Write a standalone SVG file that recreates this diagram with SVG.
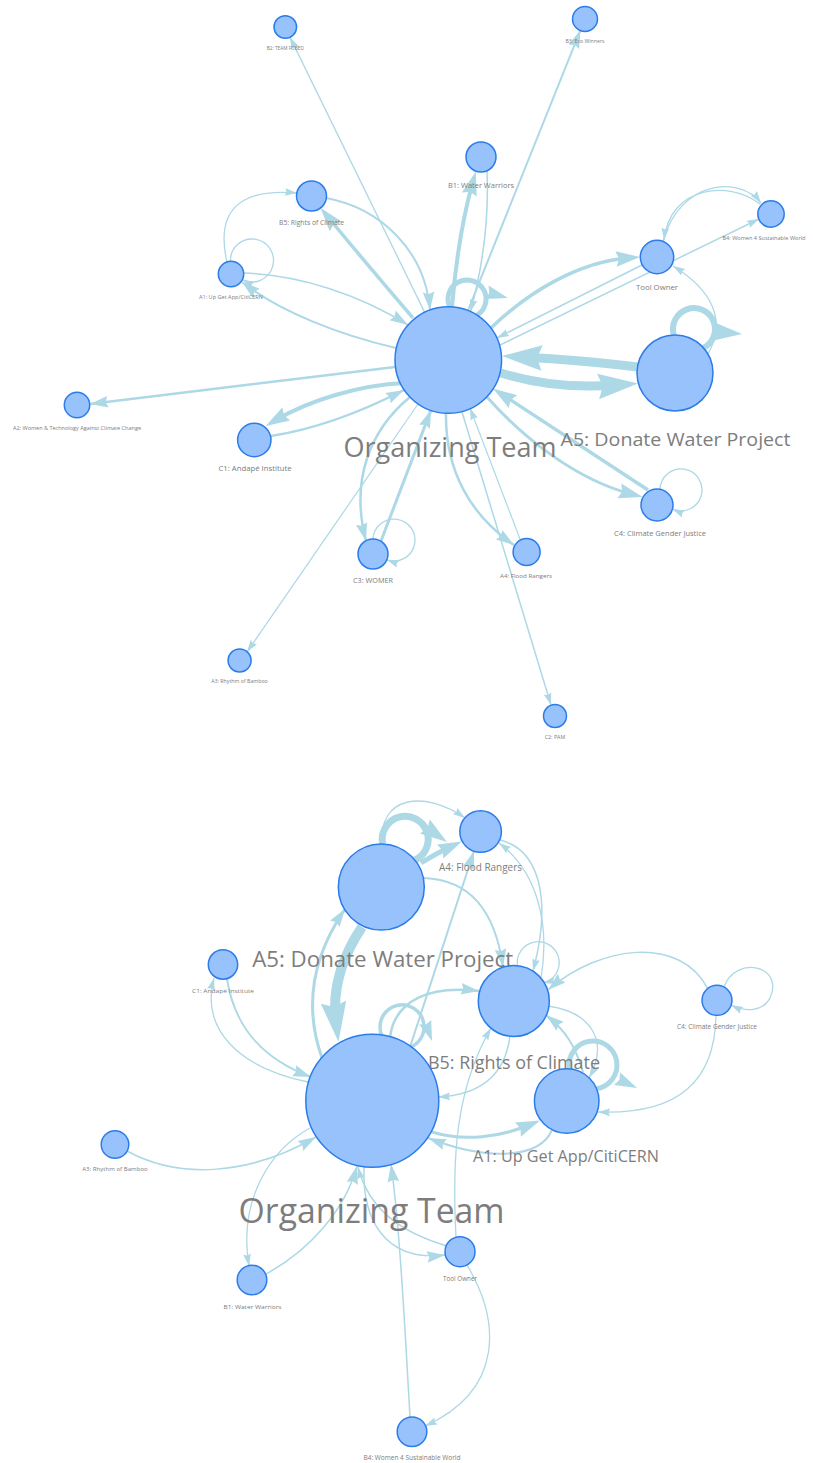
<svg xmlns="http://www.w3.org/2000/svg" xmlns:xlink="http://www.w3.org/1999/xlink" width="813" height="1463" viewBox="0 0 813 1463">
<defs>
<style>
.e{fill:none;stroke:#add8e6;stroke-linecap:butt}
.ah{fill:#add8e6}
.n{fill:#97c2fc;stroke:#2b7ce9;stroke-width:1.5}
.l{font-family:"Open Sans","Noto Sans","Liberation Sans",sans-serif;fill:#7d7d7d;text-anchor:middle}
</style>
<path id="ah" d="M0,0 L-1,0.32 L-0.88,0 L-1,-0.32Z"/>
<marker id="m1" markerUnits="userSpaceOnUse" viewBox="-1 -0.5 1 1" refX="0" refY="0" markerWidth="12" markerHeight="12" orient="auto" overflow="visible"><path class="ah" d="M0,0 L-1,0.32 L-0.88,0 L-1,-0.32Z"/></marker>
<marker id="m2" markerUnits="userSpaceOnUse" viewBox="-1 -0.5 1 1" refX="0" refY="0" markerWidth="18" markerHeight="18" orient="auto" overflow="visible"><path class="ah" d="M0,0 L-1,0.32 L-0.88,0 L-1,-0.32Z"/></marker>
<marker id="m3" markerUnits="userSpaceOnUse" viewBox="-1 -0.5 1 1" refX="-0.5" refY="0" markerWidth="24" markerHeight="24" orient="auto" overflow="visible"><path class="ah" d="M0,0 L-1,0.32 L-0.88,0 L-1,-0.32Z"/></marker>
<marker id="m4" markerUnits="userSpaceOnUse" viewBox="-1 -0.5 1 1" refX="-0.5" refY="0" markerWidth="40" markerHeight="40" orient="auto" overflow="visible"><path class="ah" d="M0,0 L-1,0.32 L-0.88,0 L-1,-0.32Z"/></marker>
</defs>
<rect width="813" height="1463" fill="#ffffff"/>
<g id="connectors">
<!-- top graph -->
<path class="e" stroke-width="1.3" marker-end="url(#m1)" d="M424.7,312.4 L289.8,36.9"/>
<path class="e" stroke-width="2" marker-end="url(#m2)" d="M467.8,310.8 L580.5,30.1"/>
<path class="e" stroke-width="4" marker-end="url(#m3)" d="M452,307 Q458,235 472.5,183"/>
<path class="e" stroke-width="1.5" marker-end="url(#m1)" d="M487,171 Q490,240 470.5,311.5"/>
<path class="e" stroke-width="5" d="M449.8,307 A19,19 0 1,1 476.6,315.4"/>
<use href="#ah" class="ah" transform="translate(508,298) rotate(15) scale(22)"/>
<path class="e" stroke-width="3.5" marker-end="url(#m3)" d="M413,318 Q365,262 328,217"/>
<path class="e" stroke-width="2" marker-end="url(#m2)" d="M326,198 C380,208 425,250 430,310"/>
<path class="e" stroke-width="1.3" marker-end="url(#m1)" d="M230.5,261.3 A21.5,21.5 0 1,1 242.3,279.7"/>
<path class="e" stroke-width="2" marker-end="url(#m2)" d="M396,348 C340,335 280,312 242,282"/>
<path class="e" stroke-width="1.5" marker-end="url(#m2)" d="M244,273 C300,275 360,295 408,325"/>
<path class="e" stroke-width="1.3" marker-end="url(#m1)" d="M227,262 C215,210 240,188 297,193"/>
<path class="e" stroke-width="2.5" marker-end="url(#m2)" d="M395,367 L90,404"/>
<path class="e" stroke-width="4" marker-end="url(#m3)" d="M404,383 C360,385 310,400 276,420"/>
<path class="e" stroke-width="2.5" marker-end="url(#m2)" d="M271,436 C310,430 355,415 404,390"/>
<path class="e" stroke-width="3.5" marker-end="url(#m3)" d="M490,329 C530,290 580,262 628,258"/>
<path class="e" stroke-width="1.5" marker-end="url(#m1)" d="M642,265 L497,338"/>
<path class="e" stroke-width="1.5" marker-end="url(#m1)" d="M500,345 L759,219"/>
<path class="e" stroke-width="1.3" marker-end="url(#m1)" d="M663,241 C680,180 740,175 761,203"/>
<path class="e" stroke-width="1.3" marker-end="url(#m1)" d="M760,204 C730,180 670,185 664,240"/>
<path class="e" stroke-width="9" marker-end="url(#m4)" d="M638,367 Q580,360 522,357"/>
<path class="e" stroke-width="9" marker-end="url(#m4)" d="M501,373 C540,385 580,388 618,385"/>
<path class="e" stroke-width="6" d="M673.8,335 A21,21 0 1,1 703.6,347.8"/>
<use href="#ah" class="ah" transform="translate(742,334) rotate(5) scale(30)"/>
<path class="e" stroke-width="1.3" marker-end="url(#m1)" d="M708,354 C727,320 712,290 673,266"/>
<path class="e" stroke-width="3" marker-end="url(#m3)" d="M487,397 C525,440 578,480 631,494"/>
<path class="e" stroke-width="3.5" marker-end="url(#m3)" d="M648,490 L503,395"/>
<path class="e" stroke-width="1.3" marker-end="url(#m1)" d="M660,489.3 A21,21 0 1,1 672.4,509.1"/>
<path class="e" stroke-width="2.5" marker-end="url(#m2)" d="M410,397 C370,430 350,480 366,541"/>
<path class="e" stroke-width="3" marker-end="url(#m2)" d="M381,541 L431,410"/>
<path class="e" stroke-width="1.3" marker-end="url(#m1)" d="M373,539 A21,21 0 1,1 386.8,559.8"/>
<path class="e" stroke-width="2.5" marker-end="url(#m2)" d="M446,413 C445,470 470,515 514,545"/>
<path class="e" stroke-width="1.2" marker-end="url(#m1)" d="M520,539 L470,408"/>
<path class="e" stroke-width="1.5" marker-end="url(#m1)" d="M462,412 L551,705"/>
<path class="e" stroke-width="1.2" marker-end="url(#m1)" d="M418,404 L247,652"/>
<!-- bottom graph -->
<path class="e" stroke-width="10" marker-end="url(#m4)" d="M362,927 C340,960 332,990 336,1022"/>
<path class="e" stroke-width="3" marker-end="url(#m2)" d="M322,1058 C305,1010 310,960 345,909"/>
<path class="e" stroke-width="7" d="M382.7,844.1 A23,23 0 1,1 414.5,860.3"/>
<use href="#ah" class="ah" transform="translate(447,842) rotate(35) scale(27)"/>
<path class="e" stroke-width="5" marker-end="url(#m3)" d="M421,863 Q437,853 451,846.5"/>
<path class="e" stroke-width="1.3" marker-end="url(#m1)" d="M382,845 C378,795 425,790 465,818"/>
<path class="e" stroke-width="2" marker-end="url(#m2)" d="M410,1047 L474,851"/>
<path class="e" stroke-width="2" marker-end="url(#m2)" d="M424,878 C470,880 495,910 503,967"/>
<path class="e" stroke-width="1.5" marker-end="url(#m1)" d="M500,840 C540,850 552,900 533,971"/>
<path class="e" stroke-width="1.3" marker-end="url(#m1)" d="M541,978 C550,925 538,872 499,843"/>
<path class="e" stroke-width="1.3" marker-end="url(#m1)" d="M517.5,966.3 A21,21 0 1,1 543.1,983.1"/>
<path class="e" stroke-width="1.5" marker-end="url(#m2)" d="M708,989 C680,935 600,945 548,990"/>
<path class="e" stroke-width="1.3" marker-end="url(#m1)" d="M724,987 C735,955 785,965 770,998 C763,1012 745,1012 731,1005"/>
<path class="e" stroke-width="1.3" marker-end="url(#m1)" d="M716,1015 C715,1080 680,1115 598,1112"/>
<path class="e" stroke-width="3.5" d="M381.9,1035.7 A22,22 0 1,1 410.3,1047.3"/>
<use href="#ah" class="ah" transform="translate(432,1041) rotate(70) scale(20)"/>
<path class="e" stroke-width="2.5" marker-end="url(#m2)" d="M390,1037 C395,1000 430,985 479,991"/>
<path class="e" stroke-width="1.5" marker-end="url(#m1)" d="M510,1036 C505,1075 480,1095 438,1097"/>
<path class="e" stroke-width="1.3" marker-end="url(#m1)" d="M548,1006 C590,1012 610,1040 589,1078"/>
<path class="e" stroke-width="2" marker-end="url(#m2)" d="M583,1072 C575,1045 565,1030 546,1015"/>
<path class="e" stroke-width="5" d="M569.3,1068.8 A24,24 0 1,1 596.5,1088.8"/>
<use href="#ah" class="ah" transform="translate(637,1088) rotate(25) scale(22)"/>
<path class="e" stroke-width="3" marker-end="url(#m3)" d="M432,1132 C465,1142 500,1137 529,1125"/>
<path class="e" stroke-width="2" marker-end="url(#m2)" d="M552,1130 C540,1158 490,1162 428,1138"/>
<path class="e" stroke-width="1.3" marker-end="url(#m1)" d="M308,1082 C240,1068 200,1030 214,978"/>
<path class="e" stroke-width="2" marker-end="url(#m2)" d="M227,979 C235,1030 265,1060 311,1077"/>
<path class="e" stroke-width="1.5" marker-end="url(#m2)" d="M127,1151 C180,1180 250,1175 316,1137"/>
<path class="e" stroke-width="1.3" marker-end="url(#m1)" d="M310,1128 C270,1150 238,1200 249,1266"/>
<path class="e" stroke-width="1.5" marker-end="url(#m2)" d="M266,1274 C310,1250 345,1210 357,1166"/>
<path class="e" stroke-width="1.5" marker-end="url(#m2)" d="M364,1167 C362,1220 385,1262 445,1255"/>
<path class="e" stroke-width="1.5" marker-end="url(#m1)" d="M447,1246 C410,1235 370,1215 358,1167"/>
<path class="e" stroke-width="1.3" marker-end="url(#m1)" d="M456,1237 C452,1160 455,1090 491,1028"/>
<path class="e" stroke-width="1.3" marker-end="url(#m1)" d="M467,1265 C500,1320 505,1390 425,1426"/>
<path class="e" stroke-width="1.5" marker-end="url(#m2)" d="M410,1417 C405,1330 400,1230 391,1164"/>
</g>
<!-- top graph nodes -->
<g id="t-b2"><circle class="n" cx="285.3" cy="27" r="11.3"/><text class="l" x="285.3" y="50" font-size="5" textLength="37" lengthAdjust="spacingAndGlyphs">B2: TEAM FOBED</text></g>
<g id="t-b3"><circle class="n" cx="585" cy="19" r="12.5"/><text class="l" x="585" y="42.5" font-size="5" textLength="39" lengthAdjust="spacingAndGlyphs">B3: Eco Winners</text></g>
<g id="t-b1"><circle class="n" cx="481" cy="157" r="15"/><text class="l" x="481" y="188" font-size="7" textLength="66" lengthAdjust="spacingAndGlyphs">B1: Water Warriors</text></g>
<g id="t-b5"><circle class="n" cx="311.5" cy="196" r="15"/><text class="l" x="311.5" y="224.5" font-size="7" textLength="65" lengthAdjust="spacingAndGlyphs">B5: Rights of Climate</text></g>
<g id="t-a1"><circle class="n" cx="231" cy="274" r="12.7"/><text class="l" x="231" y="298.5" font-size="5.5" textLength="64" lengthAdjust="spacingAndGlyphs">A1: Up Get App/CitiCERN</text></g>
<g id="t-tool"><circle class="n" cx="657" cy="257" r="16.7"/><text class="l" x="657" y="289.5" font-size="8" textLength="42" lengthAdjust="spacingAndGlyphs">Tool Owner</text></g>
<g id="t-b4"><circle class="n" cx="771" cy="214" r="13.2"/><text class="l" x="764" y="239.5" font-size="5.6" textLength="83" lengthAdjust="spacingAndGlyphs">B4: Women 4 Sustainable World</text></g>
<g id="t-org"><circle class="n" cx="448.3" cy="360" r="53.3"/><text class="l" x="450" y="457" font-size="28" textLength="213" lengthAdjust="spacingAndGlyphs">Organizing Team</text></g>
<g id="t-a5"><circle class="n" cx="675" cy="373" r="38"/><text class="l" x="675.5" y="445.5" font-size="19" textLength="230" lengthAdjust="spacingAndGlyphs">A5: Donate Water Project</text></g>
<g id="t-a2"><circle class="n" cx="77" cy="405" r="12.7"/><text class="l" x="77" y="430" font-size="5.5" textLength="128" lengthAdjust="spacingAndGlyphs">A2: Women &amp; Technology Against Climate Change</text></g>
<g id="t-c1"><circle class="n" cx="254.3" cy="440" r="16.7"/><text class="l" x="255" y="471" font-size="7.5" textLength="73" lengthAdjust="spacingAndGlyphs">C1: Andapé Institute</text></g>
<g id="t-c4"><circle class="n" cx="657" cy="505" r="16"/><text class="l" x="660" y="536" font-size="7.5" textLength="92" lengthAdjust="spacingAndGlyphs">C4: Climate Gender Justice</text></g>
<g id="t-c3"><circle class="n" cx="373" cy="554" r="15"/><text class="l" x="373" y="583" font-size="7.5" textLength="40" lengthAdjust="spacingAndGlyphs">C3: WOMER</text></g>
<g id="t-a4"><circle class="n" cx="526.6" cy="552" r="13.5"/><text class="l" x="526" y="578" font-size="5.5" textLength="52" lengthAdjust="spacingAndGlyphs">A4: Flood Rangers</text></g>
<g id="t-a3"><circle class="n" cx="239.6" cy="660.5" r="11.5"/><text class="l" x="239.5" y="682.5" font-size="5" textLength="56.5" lengthAdjust="spacingAndGlyphs">A3: Rhythm of Bamboo</text></g>
<g id="t-c2"><circle class="n" cx="555" cy="716" r="11.5"/><text class="l" x="555" y="738.5" font-size="5" textLength="20.6" lengthAdjust="spacingAndGlyphs">C2: PAM</text></g>
<!-- bottom graph nodes -->
<g id="b-a4"><circle class="n" cx="480.6" cy="831.5" r="20.8"/><text class="l" x="480.5" y="871" font-size="10" textLength="83" lengthAdjust="spacingAndGlyphs">A4: Flood Rangers</text></g>
<g id="b-a5"><circle class="n" cx="381.3" cy="887" r="43"/><text class="l" x="382.7" y="967" font-size="22" textLength="261" lengthAdjust="spacingAndGlyphs">A5: Donate Water Project</text></g>
<g id="b-c1"><circle class="n" cx="223" cy="964.5" r="14.7"/><text class="l" x="223" y="993" font-size="6" textLength="62" lengthAdjust="spacingAndGlyphs">C1: Andapé Institute</text></g>
<g id="b-b5"><circle class="n" cx="513.8" cy="1001" r="35.5"/><text class="l" x="514" y="1069" font-size="18" textLength="172" lengthAdjust="spacingAndGlyphs">B5: Rights of Climate</text></g>
<g id="b-c4"><circle class="n" cx="717" cy="1000.3" r="15"/><text class="l" x="717" y="1029" font-size="6.5" textLength="80" lengthAdjust="spacingAndGlyphs">C4: Climate Gender Justice</text></g>
<g id="b-org"><circle class="n" cx="372.3" cy="1100.7" r="66.5"/><text class="l" x="371.6" y="1223" font-size="34" textLength="266" lengthAdjust="spacingAndGlyphs">Organizing Team</text></g>
<g id="b-a1"><circle class="n" cx="566.7" cy="1101" r="32.3"/><text class="l" x="566" y="1162" font-size="16" textLength="186" lengthAdjust="spacingAndGlyphs">A1: Up Get App/CitiCERN</text></g>
<g id="b-a3"><circle class="n" cx="115" cy="1144.5" r="13.8"/><text class="l" x="115" y="1171" font-size="6" textLength="65.5" lengthAdjust="spacingAndGlyphs">A3: Rhythm of Bamboo</text></g>
<g id="b-tool"><circle class="n" cx="460" cy="1251.7" r="15"/><text class="l" x="460" y="1281" font-size="6.5" textLength="34" lengthAdjust="spacingAndGlyphs">Tool Owner</text></g>
<g id="b-b1"><circle class="n" cx="252" cy="1280" r="14.8"/><text class="l" x="252.5" y="1309" font-size="6" textLength="58" lengthAdjust="spacingAndGlyphs">B1: Water Warriors</text></g>
<g id="b-b4"><circle class="n" cx="412" cy="1431.7" r="14.8"/><text class="l" x="412" y="1460" font-size="6.5" textLength="97" lengthAdjust="spacingAndGlyphs">B4: Women 4 Sustainable World</text></g>
</svg>
